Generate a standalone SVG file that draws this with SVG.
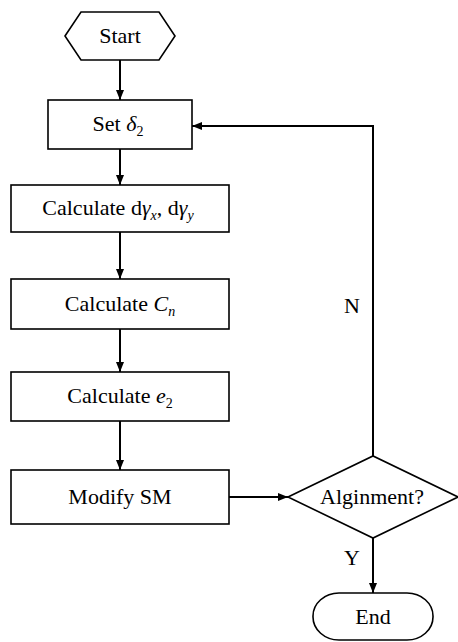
<svg xmlns="http://www.w3.org/2000/svg" width="458" height="642" viewBox="0 0 458 642" font-family="'Liberation Serif', 'Times New Roman', 'DejaVu Serif', serif">
<style>
.shape{fill:#fff;stroke:#000;stroke-width:1.6}
.conn{fill:none;stroke:#000;stroke-width:2}
text{font-family:'Liberation Serif','Times New Roman','DejaVu Serif',serif;font-size:22px;fill:#000}
.it{font-style:italic}
.sub{font-size:14px}
</style>
<defs>
<marker id="ah" viewBox="0 0 10 10" refX="10" refY="5" markerWidth="10" markerHeight="10" markerUnits="userSpaceOnUse" orient="auto">
<path d="M0,1 L10,5 L0,9 Z" fill="#000"/>
</marker>
</defs>
<rect width="458" height="642" fill="#fff"/>
<g id="connectors">
<line class="conn" x1="120" y1="60" x2="120" y2="100" marker-end="url(#ah)"/>
<line class="conn" x1="120" y1="149" x2="120" y2="185" marker-end="url(#ah)"/>
<line class="conn" x1="120" y1="232" x2="120" y2="279" marker-end="url(#ah)"/>
<line class="conn" x1="120" y1="329" x2="120" y2="372" marker-end="url(#ah)"/>
<line class="conn" x1="120" y1="421" x2="120" y2="470" marker-end="url(#ah)"/>
<line class="conn" x1="229" y1="497" x2="288" y2="497" marker-end="url(#ah)"/>
<polyline class="conn" points="373,456 373,126 192,126" marker-end="url(#ah)"/>
<line class="conn" x1="373" y1="538" x2="373" y2="593" marker-end="url(#ah)"/>
<text x="352" y="313" text-anchor="middle">N</text>
<text x="352" y="565" text-anchor="middle">Y</text>
</g>
<g id="start">
<polygon class="shape" points="65,36 81,12 159,12 175,36 159,60 81,60"/>
<text x="120" y="43" text-anchor="middle">Start</text>
</g>
<g id="set">
<rect class="shape" x="48" y="100" width="144" height="49"/>
<text x="118" y="131" text-anchor="middle">Set <tspan class="it">δ</tspan><tspan class="sub" dy="5">2</tspan></text>
</g>
<g id="calc-dgamma">
<rect class="shape" x="11" y="185" width="218" height="47"/>
<text x="118" y="215" text-anchor="middle">Calculate d<tspan class="it">γ</tspan><tspan class="sub it" dy="5">x</tspan><tspan dy="-5">, d</tspan><tspan class="it">γ</tspan><tspan class="sub it" dy="5">y</tspan></text>
</g>
<g id="calc-cn">
<rect class="shape" x="11" y="279" width="218" height="50"/>
<text x="120" y="311" text-anchor="middle">Calculate <tspan class="it">C</tspan><tspan class="sub it" dy="5">n</tspan></text>
</g>
<g id="calc-e2">
<rect class="shape" x="11" y="372" width="218" height="49"/>
<text x="120" y="403" text-anchor="middle">Calculate <tspan class="it">e</tspan><tspan class="sub" dy="5">2</tspan></text>
</g>
<g id="modify">
<rect class="shape" x="11" y="470" width="218" height="54"/>
<text x="120" y="504" text-anchor="middle">Modify SM</text>
</g>
<g id="decision">
<polygon class="shape" points="288,497 373,456 458,497 373,538"/>
<text x="372" y="504" text-anchor="middle">Alginment?</text>
</g>
<g id="end">
<rect class="shape" x="313" y="593" width="120" height="47" rx="26" ry="23"/>
<text x="373" y="624" text-anchor="middle">End</text>
</g>
</svg>
